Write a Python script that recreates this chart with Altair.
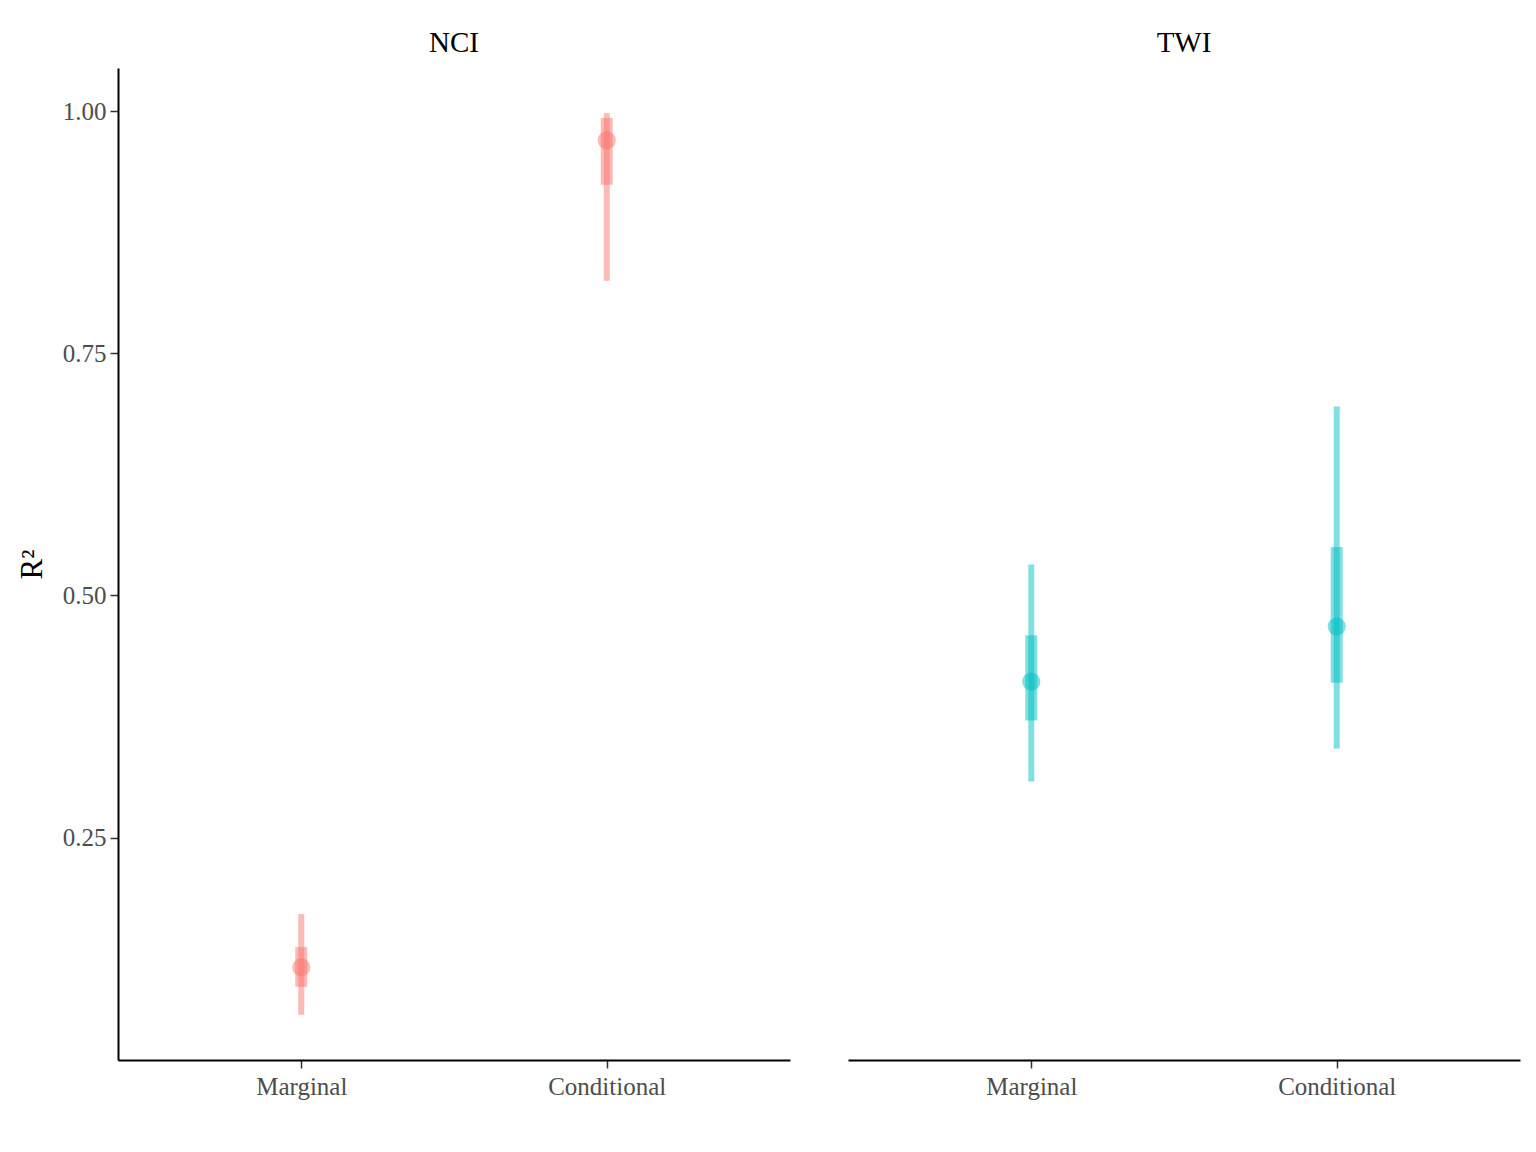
import altair as alt
import pandas as pd

panels = ["NCI", "NCI", "TWI", "TWI"]
types = ["Marginal", "Conditional", "Marginal", "Conditional"]
est = [0.116, 0.970, 0.411, 0.468]
lo95 = [0.067, 0.825, 0.308, 0.342]
hi95 = [0.171, 0.998, 0.532, 0.695]
lo50 = [0.096, 0.924, 0.371, 0.410]
hi50 = [0.137, 0.993, 0.459, 0.550]

df = pd.DataFrame({
    "panel": panels, "type": types, "est": est,
    "lo95": lo95, "hi95": hi95, "lo50": lo50, "hi50": hi50,
})

FONT = "Liberation Serif"
colors = alt.Scale(domain=["NCI", "TWI"], range=["#F8766D", "#00BFC4"])

x = alt.X("type:N", sort=["Marginal", "Conditional"], title=None,
          scale=alt.Scale(type="point", padding=0.6),
          axis=alt.Axis(labelAngle=0))
yscale = alt.Scale(domain=[0.0204, 1.0446], nice=False, zero=False)

thin = alt.Chart().mark_rule(strokeWidth=6, opacity=0.5).encode(
    x=x,
    y=alt.Y("lo95:Q", scale=yscale, title="R²",
            axis=alt.Axis(values=[0.25, 0.5, 0.75, 1.0], format=".2f")),
    y2="hi95:Q",
    color=alt.Color("panel:N", scale=colors, legend=None),
)
thick = alt.Chart().mark_rule(strokeWidth=12, opacity=0.5).encode(
    x=x, y=alt.Y("lo50:Q", scale=yscale), y2="hi50:Q",
    color=alt.Color("panel:N", scale=colors, legend=None),
)
pts = alt.Chart().mark_point(size=330, opacity=0.5, filled=True,
                             strokeWidth=1.5, strokeOpacity=0.6).encode(
    x=x, y=alt.Y("est:Q", scale=yscale),
    color=alt.Color("panel:N", scale=colors, legend=None),
)

chart = alt.layer(thin, thick, pts, data=df).properties(
    width=672, height=992
).facet(
    column=alt.Column("panel:N", title=None,
                      header=alt.Header(labelFont=FONT, labelFontSize=29,
                                        labelColor="black", labelPadding=10)),
    spacing=58,
).configure_view(stroke=None).configure_axis(
    grid=False, domainColor="black", domainWidth=2, tickColor="#333333",
    tickWidth=1.5, tickSize=8, labelFont=FONT, labelFontSize=25,
    labelColor="#4D4D4D", labelPadding=4, titleFont=FONT, titleFontSize=31,
    titleColor="black", titleFontWeight="normal", titlePadding=14,
).configure_axisX(labelPadding=6).properties(
    padding={"left": 16, "top": 29, "right": 16, "bottom": 10}
)

chart.save("out.html", embed_options={"renderer": "svg", "actions": False})
